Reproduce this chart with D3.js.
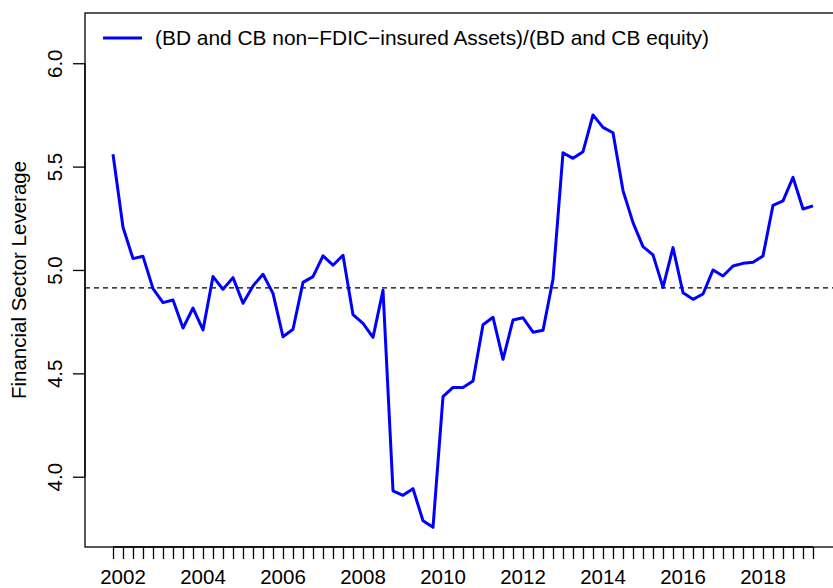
<!DOCTYPE html>
<html>
<head>
<meta charset="utf-8">
<script src="https://cdn.jsdelivr.net/npm/d3@7"></script>
<style>
  html, body { margin: 0; padding: 0; background: #fff; }
  svg { display: block; font-family: "Liberation Sans", Arial, Helvetica, sans-serif; }
</style>
</head>
<body>
<svg id="chart" width="833" height="588"></svg>
<script>
// Quarterly observations, 2001Q4 .. 2019Q2
const startYear = 2001.75;
const leverage = [
  5.560, 5.207, 5.055, 5.066, 4.910, 4.842, 4.855, 4.719, 4.816, 4.710,
  4.968, 4.907, 4.963, 4.839, 4.923, 4.979, 4.887, 4.677, 4.713, 4.940,
  4.968, 5.068, 5.023, 5.071, 4.784, 4.742, 4.674, 4.902, 3.932, 3.910,
  3.942, 3.787, 3.755, 4.387, 4.432, 4.431, 4.463, 4.735, 4.771, 4.568,
  4.758, 4.769, 4.699, 4.708, 4.955, 5.567, 5.540, 5.572, 5.750, 5.690,
  5.664, 5.384, 5.229, 5.113, 5.073, 4.916, 5.108, 4.890, 4.858, 4.884,
  5.000, 4.971, 5.019, 5.032, 5.037, 5.068, 5.313, 5.334, 5.448, 5.295,
  5.310
];
const referenceLevel = 4.913;
const yTicks = [4.0, 4.5, 5.0, 5.5, 6.0];
const yearLabels = [2002, 2004, 2006, 2008, 2010, 2012, 2014, 2016, 2018];
const seriesLabel = "(BD and CB non\u2212FDIC\u2212insured Assets)/(BD and CB equity)";
const yTitle = "Financial Sector Leverage";

const dates = leverage.map((_, i) => startYear + i * 0.25);
const series = leverage.map((v, i) => ({ t: dates[i], v }));

const plot = { left: 85, top: 13, right: 841, bottom: 547 };
const fontSize = 20.5;
const legendFontSize = 20.9;

const x = d3.scaleLinear().domain([2001.05, 2019.95]).range([plot.left, plot.right]);
const y = d3.scaleLinear().domain([3.66, 6.243]).range([plot.bottom, plot.top]);

const svg = d3.select("#chart");

// Frame
svg.append("rect")
  .attr("x", plot.left).attr("y", plot.top)
  .attr("width", plot.right - plot.left).attr("height", plot.bottom - plot.top)
  .attr("fill", "none").attr("stroke", "#000").attr("stroke-width", 1.3);

// Quarterly tick marks along the bottom
const xAxis = d3.axisBottom(x).tickValues(dates).tickSize(12).tickFormat("");
const gx = svg.append("g").attr("transform", `translate(0,${plot.bottom})`).call(xAxis);
gx.select(".domain")
  .attr("d", `M${x(dates[0])},0H${x(dates[dates.length - 1])}`)
  .attr("stroke-width", 1.3);
gx.selectAll(".tick line").attr("stroke-width", 1.3);

// Year labels
svg.append("g").selectAll("text").data(yearLabels).join("text")
  .attr("x", d => x(d)).attr("y", 584)
  .attr("text-anchor", "middle").attr("font-size", fontSize)
  .text(d => d);

// Left axis with rotated labels
const yAxis = d3.axisLeft(y).tickValues(yTicks).tickSize(12).tickFormat(d3.format(".1f"));
const gy = svg.append("g").attr("transform", `translate(${plot.left},0)`).call(yAxis);
gy.select(".domain")
  .attr("d", `M0,${y(yTicks[0])}V${y(yTicks[yTicks.length - 1])}`)
  .attr("stroke-width", 1.3);
gy.selectAll(".tick line").attr("stroke-width", 1.3);
gy.selectAll(".tick text")
  .attr("font-size", fontSize).attr("font-family", null).attr("fill", "#000")
  .attr("x", null).attr("dy", null)
  .attr("text-anchor", "middle")
  .attr("transform", `translate(${62 - plot.left},0) rotate(-90)`);

// Axis title
svg.append("text")
  .attr("transform", `translate(26,${(plot.top + plot.bottom) / 2}) rotate(-90)`)
  .attr("text-anchor", "middle").attr("font-size", fontSize)
  .text(yTitle);

// Reference level
svg.append("line")
  .attr("x1", plot.left).attr("x2", plot.right)
  .attr("y1", y(referenceLevel)).attr("y2", y(referenceLevel))
  .attr("stroke", "#000").attr("stroke-width", 1.2).attr("stroke-dasharray", "5,4");

// Leverage series
const line = d3.line().x(d => x(d.t)).y(d => y(d.v));
svg.append("path").datum(series)
  .attr("d", line)
  .attr("fill", "none").attr("stroke", "#0000ff")
  .attr("stroke-width", 3).attr("stroke-linejoin", "round");

// Legend
svg.append("line")
  .attr("x1", 103).attr("x2", 142).attr("y1", 38).attr("y2", 38)
  .attr("stroke", "#0000ff").attr("stroke-width", 3);
svg.append("text")
  .attr("x", 155).attr("y", 38).attr("dy", "0.35em")
  .attr("font-size", legendFontSize)
  .text(seriesLabel);
</script>
</body>
</html>
